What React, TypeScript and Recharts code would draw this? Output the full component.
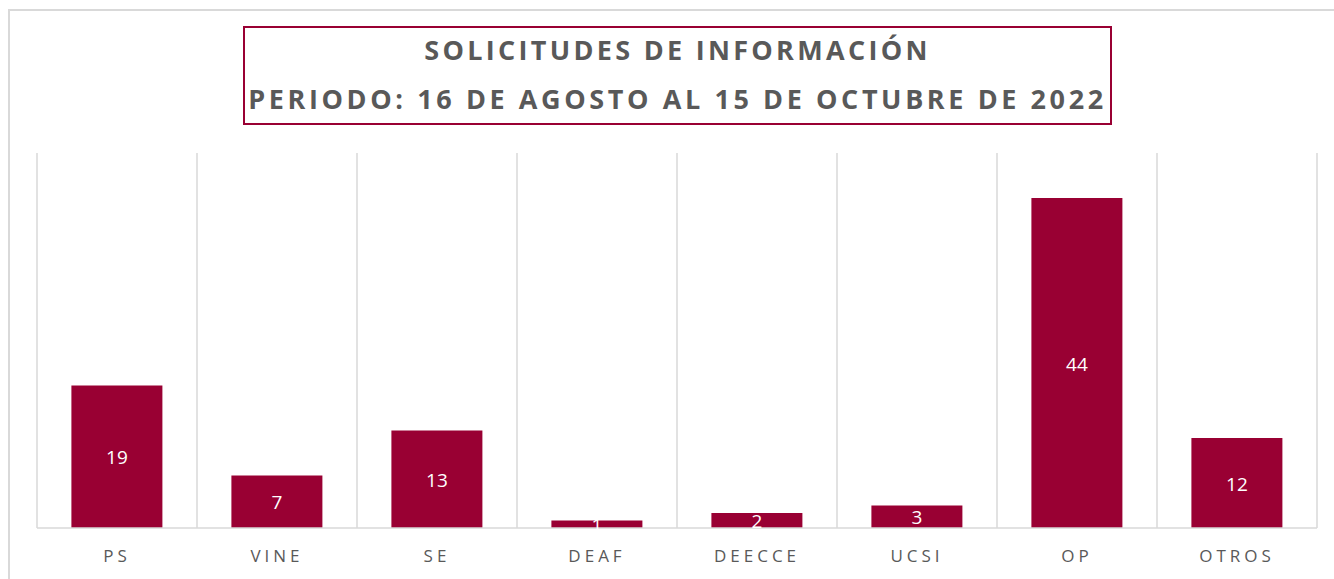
import { Bar, BarChart, CartesianGrid, LabelList, XAxis, YAxis } from "recharts";

const categories = ["PS", "VINE", "SE", "DEAF", "DEECCE", "UCSI", "OP", "OTROS"];
const solicitudes = [19, 7, 13, 1, 2, 3, 44, 12];
const titleLines = ["SOLICITUDES DE INFORMACIÓN", "PERIODO: 16 DE AGOSTO AL 15 DE OCTUBRE DE 2022"];

const data = categories.map((name, i) => ({ name, value: solicitudes[i] }));

const WINE = "#990033";
const GRID = "#d9d9d9";
const TEXT = "#595959";

// Excel style: vertical lines on the category boundaries, not the centres
const boundaryLines = ({ offset }: any) =>
  Array.from({ length: categories.length + 1 }, (_, i) => offset.left + (i * offset.width) / categories.length);

export default function App() {
  return (
    <div style={{ position: "fixed", left: 0, top: 0, width: 1334, height: 579, overflow: "hidden", background: "#fff", fontFamily: "'Open Sans', sans-serif" }}>
      <div style={{ position: "absolute", left: 8, top: 9, width: 1400, height: 700, border: `2px solid ${GRID}`, boxSizing: "border-box" }} />
      <BarChart
        width={1334}
        height={579}
        data={data}
        barCategoryGap="21.5%"
        margin={{ top: 153, right: 17, left: 37, bottom: 21 }}
        style={{ position: "absolute", left: 0, top: 0 }}
      >
        <CartesianGrid horizontal={false} stroke={GRID} strokeWidth={1.5} verticalCoordinatesGenerator={boundaryLines} />
        <XAxis
          dataKey="name"
          height={30}
          axisLine={{ stroke: GRID, strokeWidth: 1.5 }}
          tickLine={false}
          tick={{ fill: TEXT, fontSize: 17, letterSpacing: 4 }}
          tickMargin={16}
        />
        <YAxis hide domain={[0, 50]} />
        <Bar dataKey="value" fill={WINE} isAnimationActive={false}>
          <LabelList dataKey="value" position="center" fill="#fff" fontSize={19} dy={1} />
        </Bar>
      </BarChart>
      <div
        style={{
          position: "absolute",
          left: 243,
          top: 26,
          width: 869,
          height: 99,
          border: `2px solid ${WINE}`,
          boxSizing: "border-box",
          textAlign: "center",
          color: TEXT,
          fontWeight: 700,
          fontSize: 27,
          letterSpacing: 3.3,
          whiteSpace: "nowrap",
        }}
      >
        <div style={{ position: "absolute", left: 0, right: 0, top: 7, lineHeight: "30px" }}>{titleLines[0]}</div>
        <div style={{ position: "absolute", left: 0, right: 0, top: 56, lineHeight: "30px", letterSpacing: 3.6 }}>{titleLines[1]}</div>
      </div>
    </div>
  );
}
